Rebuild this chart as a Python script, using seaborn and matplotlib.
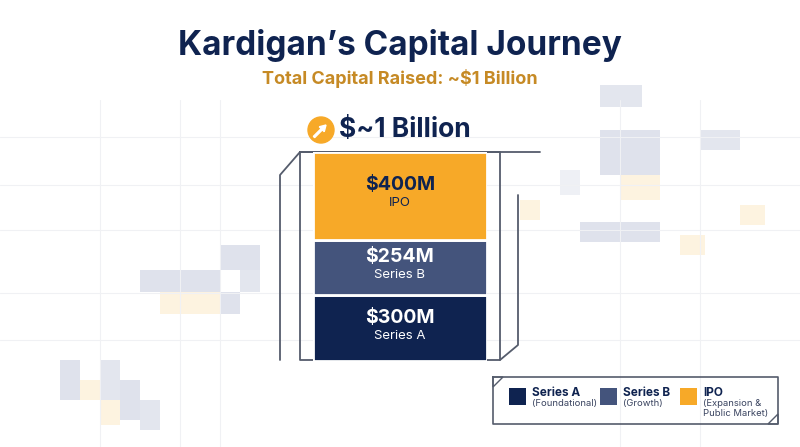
import matplotlib
matplotlib.use("Agg")
import matplotlib.pyplot as plt
import seaborn as sns
from matplotlib.patches import Rectangle, Circle, Polygon, FancyArrow

NAVY = "#0f2350"
SLATE = "#44547c"
ORANGE = "#f7a928"
GOLD = "#c68a25"

rounds = ["Series A", "Series B", "IPO"]
amounts = [300, 254, 400]
amount_labels = ["$300M", "$254M", "$400M"]
colors = [NAVY, SLATE, ORANGE]
legend_notes = ["(Foundational)", "(Growth)", "(Expansion &\nPublic Market)"]
legend_x = [509, 600, 680]

sns.set_theme(style="white")
plt.rcParams["font.family"] = ["Inter", "DejaVu Sans"]

fig = plt.figure(figsize=(8, 4.47), dpi=100)
bg = fig.add_axes([0, 0, 1, 1])
bg.set_xlim(0, 800)
bg.set_ylim(447, 0)
bg.axis("off")

# faint decorative blocks
blocks = [
    (600, 85, 22, 22, "#e3e6ee"), (620, 85, 22, 22, "#e3e6ee"), (600, 130, 60, 45, "#dfe2ec"),
    (560, 170, 20, 25, "#eef0f5"), (620, 175, 40, 25, "#fdf3e0"), (580, 222, 80, 20, "#dfe2ec"),
    (700, 130, 40, 20, "#e3e6ee"), (740, 205, 25, 20, "#fdf3e0"), (680, 235, 25, 20, "#fdf3e0"),
    (520, 200, 20, 20, "#fdf3e0"), (140, 270, 80, 22, "#dfe2ec"), (220, 245, 40, 25, "#dfe2ec"),
    (160, 292, 60, 22, "#fdf3e0"), (220, 292, 20, 22, "#dfe2ec"), (240, 270, 20, 22, "#e3e6ee"),
    (60, 360, 20, 40, "#dfe2ec"), (80, 380, 20, 20, "#fdf3e0"), (100, 360, 20, 40, "#e3e6ee"),
    (120, 380, 20, 40, "#dfe2ec"), (140, 400, 20, 30, "#e3e6ee"), (100, 400, 20, 25, "#fdf3e0"),
]
for x, y, w, h, c in blocks:
    bg.add_patch(Rectangle((x, y), w, h, color=c, lw=0, zorder=0))
for y in [137, 185, 230, 293, 340]:
    bg.plot([0, 800], [y, y], color="#f0f1f4", lw=0.8, zorder=0)
for x in [100, 180, 220, 620, 700]:
    bg.plot([x, x], [100, 447], color="#f0f1f4", lw=0.8, zorder=0)

# frame around the bar
fc = "#555c6c"
bg.plot([280, 280, 300, 540], [360, 175, 152, 152], color=fc, lw=1.3)
bg.plot([300, 300, 500, 500, 300], [152, 360, 360, 152, 152], color=fc, lw=1.3)
bg.plot([500, 518, 518], [360, 345, 195], color=fc, lw=1.3)

# stacked bar
bar = fig.add_axes([313 / 800, (447 - 361) / 447, 174 / 800, 209 / 447])
bottom = 0
for r, a, lab, c in zip(rounds, amounts, amount_labels, colors):
    bar.bar(0, a, bottom=bottom, width=1, color=c, edgecolor="white", linewidth=2)
    mid = bottom + a / 2
    tc = NAVY if c == ORANGE else "white"
    bar.annotate(lab, (0, mid), xytext=(0, 1), textcoords="offset points", ha="center",
                 va="bottom", fontsize=14, fontweight="bold", color=tc)
    bar.annotate(r, (0, mid), xytext=(0, -1), textcoords="offset points", ha="center",
                 va="top", fontsize=9.5, color=tc)
    bottom += a
bar.set_xlim(-0.5, 0.5)
bar.set_ylim(0, bottom)
bar.axis("off")

# titles
bg.text(400, 45, "Kardigan’s Capital Journey", ha="center", va="center",
        fontsize=24, fontweight="bold", color=NAVY)
bg.text(400, 79, "Total Capital Raised: ~$1 Billion", ha="center", va="center",
        fontsize=13, fontweight="bold", color=GOLD)
bg.text(339, 130, "$~1 Billion", ha="left", va="center", fontsize=19, fontweight="bold", color=NAVY)
bg.add_patch(Circle((321, 130), 13, color=ORANGE))
bg.add_patch(FancyArrow(314, 137, 12, -12, width=1.8, head_width=7, head_length=6,
                        length_includes_head=True, color="white"))

# legend
bg.plot([493, 778, 778, 493, 493], [377, 377, 424, 424, 377], color=fc, lw=1.2)
bg.add_patch(Polygon([(493, 377), (503, 377), (493, 387)], color=fc, fill=False, lw=1))
bg.add_patch(Polygon([(778, 424), (768, 424), (778, 414)], color=fc, fill=False, lw=1))
for x0, r, n, c in zip(legend_x, rounds, legend_notes, colors):
    bg.add_patch(Rectangle((x0, 388), 17, 17, color=c, lw=0))
    bg.text(x0 + 23, 387, r, fontsize=8.5, fontweight="bold", color=NAVY, va="top")
    bg.text(x0 + 23, 399, n, fontsize=6.8, color="#3a4460", va="top", linespacing=1.1)

fig.savefig("out.png", dpi=100)
